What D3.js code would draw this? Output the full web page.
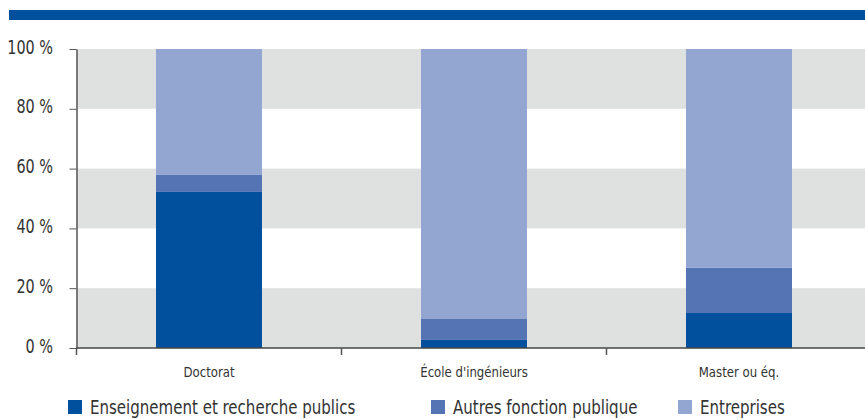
<!DOCTYPE html>
<html>
<head>
<meta charset="utf-8">
<script src="https://cdn.jsdelivr.net/npm/d3@7"></script>
<style>
  body { margin: 0; background: #fff; }
  svg { display: block; overflow: hidden; }
  text { font-family: "Liberation Sans Narrow", "DejaVu Sans Condensed", sans-serif; fill: #333; }
</style>
</head>
<body>
<div id="chart"></div>
<script>
// data
var categories = ["Doctorat", "École d'ingénieurs", "Master ou éq."];
var seriesNames = ["Enseignement et recherche publics", "Autres fonction publique", "Entreprises"];
var enseignement = [52.2, 2.7, 11.7];
var autresFP = [5.7, 7.0, 15.1];
var entreprises = [42.1, 90.3, 73.2];
var yTicks = [0, 20, 40, 60, 80, 100];

var colors = ["#00509e", "#5574b4", "#93a6d1"];

var width = 865, height = 419;
var margin = { top: 49, left: 76.5 };
var chartWidth = 795;   // runs past the right edge, as in the original
var chartHeight = 299;

var svg = d3.select("#chart").append("svg")
    .attr("width", width)
    .attr("height", height);

// top banner
svg.append("rect")
    .attr("x", 9).attr("y", 10)
    .attr("width", width - 9).attr("height", 10)
    .attr("fill", "#00509e");

var chartGroup = svg.append("g")
    .attr("transform", `translate(${margin.left}, ${margin.top})`);

var table = categories.map(function(c, i) {
    return { cat: c, s0: enseignement[i], s1: autresFP[i], s2: entreprises[i] };
});
var stack = d3.stack().keys(["s0", "s1", "s2"])(table);

var xScale = d3.scaleBand()
    .domain(categories)
    .range([0, chartWidth])
    .paddingInner(0.6)
    .paddingOuter(0.3);

var yScale = d3.scaleLinear()
    .domain([0, 100])
    .range([chartHeight, 0]);

// grey bands
var bands = [[0, 20], [40, 60], [80, 100]];
chartGroup.selectAll("rect.band")
    .data(bands)
    .enter()
    .append("rect")
    .attr("class", "band")
    .attr("x", 0)
    .attr("width", chartWidth)
    .attr("y", d => yScale(d[1]))
    .attr("height", d => yScale(d[0]) - yScale(d[1]))
    .attr("fill", "#dfe1e0");

// bars
chartGroup.selectAll("g.layer")
    .data(stack)
    .enter()
    .append("g")
    .attr("class", "layer")
    .attr("fill", (d, i) => colors[i])
    .selectAll("rect")
    .data(d => d)
    .enter()
    .append("rect")
    .attr("x", d => xScale(d.data.cat))
    .attr("width", xScale.bandwidth())
    .attr("y", d => yScale(d[1]))
    .attr("height", d => yScale(d[0]) - yScale(d[1]));

// y axis
var yAxis = chartGroup.append("g")
    .call(d3.axisLeft(yScale).tickValues(yTicks).tickSize(7).tickSizeOuter(0).tickFormat(d => d + " %"));
yAxis.select(".domain").attr("stroke", "#555").attr("stroke-width", 1.5);
yAxis.selectAll(".tick line").attr("stroke", "#555");
yAxis.selectAll(".tick text")
    .attr("x", 0)
    .attr("dy", "0.2em")
    .attr("transform", "translate(-23.5,0) scale(0.8,1)")
    .style("font-size", "20px")
    .attr("fill", "#333");

// y axis line goes a bit below zero
yAxis.append("line")
    .attr("y1", chartHeight).attr("y2", chartHeight + 7)
    .attr("stroke", "#555").attr("stroke-width", 1.5);

// x axis with ticks at category boundaries
var step = xScale.step();
var xAxisG = chartGroup.append("g")
    .attr("transform", `translate(0, ${chartHeight})`);
xAxisG.append("line")
    .attr("x1", 0).attr("x2", chartWidth)
    .attr("stroke", "#444").attr("stroke-width", 1.5);
xAxisG.selectAll("line.tk")
    .data([1, 2])
    .enter()
    .append("line")
    .attr("class", "tk")
    .attr("x1", d => d * step).attr("x2", d => d * step)
    .attr("y1", 0).attr("y2", 7)
    .attr("stroke", "#555").attr("stroke-width", 1.5);
xAxisG.selectAll("text")
    .data(categories)
    .enter()
    .append("text")
    .attr("transform", d => `translate(${xScale(d) + xScale.bandwidth() / 2}, 29) scale(0.9,1)`)
    .attr("text-anchor", "middle")
    .style("font-size", "14.5px")
    .text(d => d);

// legend
var legendX = [68, 431, 678];
var legend = svg.selectAll("g.legend")
    .data(seriesNames)
    .enter()
    .append("g")
    .attr("class", "legend")
    .attr("transform", (d, i) => `translate(${legendX[i]}, 400)`);
legend.append("rect")
    .attr("width", 14).attr("height", 14)
    .attr("fill", (d, i) => colors[i]);
legend.append("text")
    .attr("transform", "translate(22,14) scale(0.88,1)")
    .style("font-size", "19px")
    .text(d => d);
</script>
</body>
</html>
